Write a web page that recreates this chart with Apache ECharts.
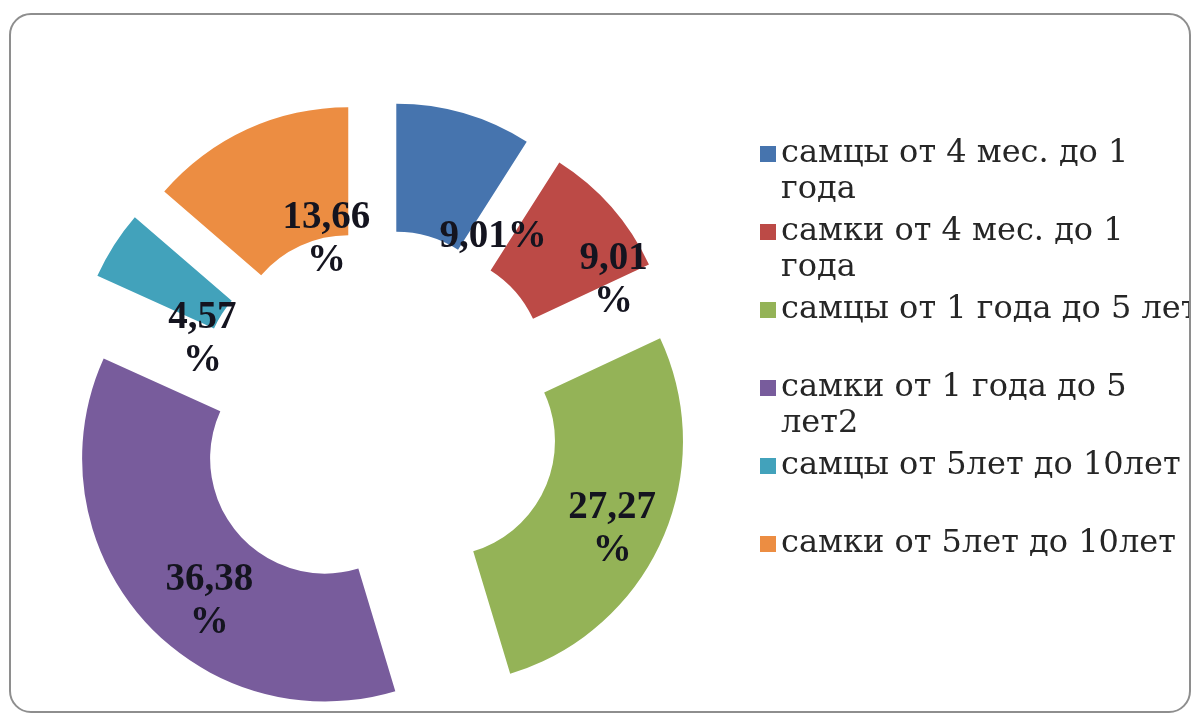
<!DOCTYPE html>
<html>
<head>
<meta charset="utf-8">
<script src="https://cdn.jsdelivr.net/npm/echarts@6/dist/echarts.min.js"></script>
<style>
  html, body { margin: 0; padding: 0; background: #fff; }
  #frame {
    position: absolute; left: 9px; top: 13px; width: 1182px; height: 700px;
    box-sizing: border-box; border: 2px solid #8e8e8e; border-radius: 22px;
    overflow: hidden; background: #fff;
  }
  /* chart canvas is shifted so its coordinates line up with the page */
  #chart { position: absolute; left: -11px; top: -15px; width: 1195px; height: 717px; }
</style>
</head>
<body>
<div id="frame"><div id="chart"></div></div>
<script>
// Age / sex groups (legend text, with the line breaks used in the legend)
const categories = [
  'самцы от 4 мес. до 1\nгода',
  'самки от 4 мес. до 1\nгода',
  'самцы от 1 года до 5 лет',
  'самки от 1 года до 5\nлет2',
  'самцы от 5лет до 10лет',
  'самки от 5лет до 10лет'
];
// Share of each group, %
const shares = [9.01, 9.01, 27.27, 36.38, 4.57, 13.66];
// Slice colours
const colors = ['#4674ae', '#bc4a46', '#94b357', '#785c9c', '#42a2bb', '#ec8d42'];
// Whether the "%" sign goes on its own line in the slice label
const percentOnNewLine = [false, true, true, true, true, true];
// Label nudges from the ring middle, px
const labelShift = [[46, 65], [48, 33], [6, 14], [21, 23], [37, 61], [54, 55]];

const LINE = 36;

const chart = echarts.init(document.getElementById('chart'), null, { renderer: 'canvas' });

const option = {
  animation: false,
  backgroundColor: 'transparent',
  color: colors,
  legend: {
    orient: 'vertical',
    left: 760,
    top: 100,
    padding: 0,
    itemWidth: 16,
    itemHeight: 16,
    itemGap: 78 - 3 * LINE,
    icon: 'rect',
    selectedMode: false,
    textStyle: {
      fontFamily: 'DejaVu Serif',
      fontSize: 32,
      lineHeight: LINE,
      color: '#262626'
    },
    // every entry is laid out as three lines so the marker sits on the first text line
    formatter: function (name) {
      return name.indexOf('\n') >= 0 ? '\n' + name : '\n' + name + '\n';
    },
    data: categories
  },
  series: [{
    type: 'pie',
    center: [377, 413],
    radius: [115, 243],
    startAngle: 90,
    clockwise: true,
    selectedMode: 'multiple',
    selectedOffset: 69,
    avoidLabelOverlap: false,
    emphasis: { disabled: true },
    select: { itemStyle: { borderWidth: 0 } },
    itemStyle: { borderWidth: 0 },
    labelLine: { show: false },
    label: {
      show: true,
      position: 'inside',
      fontFamily: 'Liberation Serif',
      fontWeight: 'bold',
      fontSize: 39,
      lineHeight: 43,
      color: '#14141f',
      align: 'center',
      formatter: function (p) {
        const txt = p.value.toFixed(2).replace('.', ',');
        return percentOnNewLine[p.dataIndex] ? txt + '\n%' : txt + '%';
      }
    },
    labelLayout: function (params) {
      const s = labelShift[params.dataIndex];
      return { dx: s[0], dy: s[1] };
    },
    data: shares.map(function (v, i) {
      return { name: categories[i], value: v, selected: true };
    })
  }]
};

chart.setOption(option);
</script>
</body>
</html>
